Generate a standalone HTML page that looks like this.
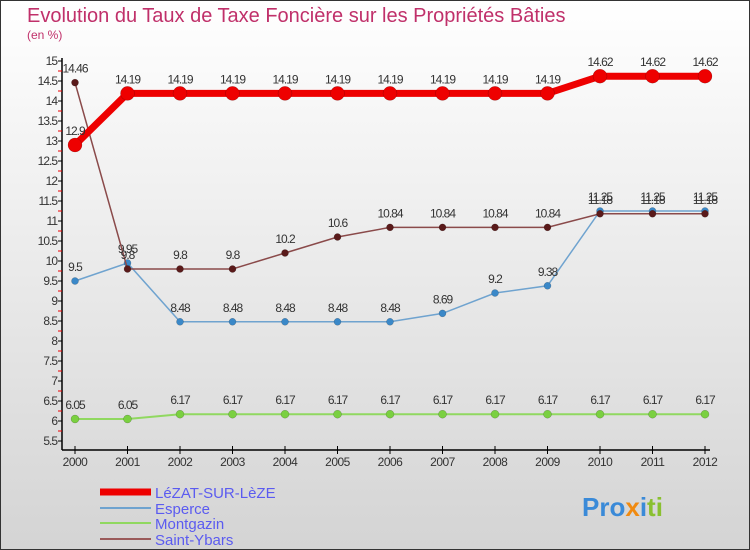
<!DOCTYPE html>
<html><head><meta charset="utf-8"><style>
body{margin:0;width:750px;height:550px;overflow:hidden;font-family:"Liberation Sans",sans-serif}
svg{display:block}
</style></head><body>
<svg width="750" height="550" xmlns="http://www.w3.org/2000/svg">
<defs><linearGradient id="bg" x1="0" y1="0" x2="0" y2="1"><stop offset="0" stop-color="#ffffff"/><stop offset="1" stop-color="#d4d4d4"/></linearGradient></defs>
<rect x="0.5" y="0.5" width="749" height="549" fill="url(#bg)" stroke="#333"/>
<text x="27" y="22" font-size="20" fill="#c0306a">Evolution du Taux de Taxe Foncière sur les Propriétés Bâties</text>
<text x="27" y="39" font-size="12" fill="#c0306a">(en %)</text>
<g id="axes"></g><g id="series"></g>
<g>
<line x1="100" y1="492" x2="151" y2="492" stroke="#e00" stroke-width="7"/>
<text x="155" y="498" font-size="15" fill="#5b5bf0">LéZAT-SUR-LèZE</text>
<line x1="100" y1="508" x2="151" y2="508" stroke="#6fa3cf" stroke-width="2"/>
<text x="155" y="514" font-size="15" fill="#5b5bf0">Esperce</text>
<line x1="100" y1="523" x2="151" y2="523" stroke="#90d860" stroke-width="2"/>
<text x="155" y="529" font-size="15" fill="#5b5bf0">Montgazin</text>
<line x1="100" y1="539" x2="151" y2="539" stroke="#9a5a5a" stroke-width="2"/>
<text x="155" y="545" font-size="15" fill="#5b5bf0">Saint-Ybars</text>
</g>
<text x="582" y="516" font-size="26" font-weight="bold"><tspan fill="#3a8ad8">Pro</tspan><tspan fill="#f08a10">x</tspan><tspan fill="#3a8ad8">i</tspan><tspan fill="#8ac030">ti</tspan></text>
</svg>
<script>
const years=[2000,2001,2002,2003,2004,2005,2006,2007,2008,2009,2010,2011,2012];
const lezat=[12.9,14.19,14.19,14.19,14.19,14.19,14.19,14.19,14.19,14.19,14.62,14.62,14.62];
const esperce=[9.5,9.95,8.48,8.48,8.48,8.48,8.48,8.69,9.2,9.38,11.25,11.25,11.25];
const montgazin=[6.05,6.05,6.17,6.17,6.17,6.17,6.17,6.17,6.17,6.17,6.17,6.17,6.17];
const saintYbars=[14.46,9.8,9.8,9.8,10.2,10.6,10.84,10.84,10.84,10.84,11.18,11.18,11.18];
const yTicks=[5.5,6,6.5,7,7.5,8,8.5,9,9.5,10,10.5,11,11.5,12,12.5,13,13.5,14,14.5,15];
const NS="http://www.w3.org/2000/svg";
const xs=i=>75+i*52.5, ys=v=>61+(15-v)*40;
function mk(t,a,p){const e=document.createElementNS(NS,t);for(const k in a)e.setAttribute(k,a[k]);p.appendChild(e);return e;}
const ax=document.getElementById('axes'), sg=document.getElementById('series');
let l=mk('line',{x1:62,y1:58,x2:62,y2:450,stroke:'#000','stroke-width':1.5},ax);


l=mk('line',{x1:62,y1:450,x2:710,y2:450,stroke:'#000','stroke-width':1.5},ax);


yTicks.forEach(v=>{const y=ys(v);
 mk('line',{x1:58,y1:y,x2:62,y2:y,stroke:'#000'},ax);
 if(v>5.5) mk('line',{x1:58,y1:y+10,x2:62,y2:y+10,stroke:'#e00'},ax);
 const t=mk('text',{x:57,y:y+4,'text-anchor':'end','font-size':12,fill:'#333','letter-spacing':'-1'},ax);t.textContent=v;
 
 
});
years.forEach((yr,i)=>{const x=xs(i);
 mk('line',{x1:x,y1:446,x2:x,y2:454,stroke:'#000'},ax);
 const t=mk('text',{x:x,y:466,'text-anchor':'middle','font-size':12,fill:'#333','letter-spacing':'-0.5'},ax);t.textContent=yr;
 
 
});
function series(data,color,w,r,name,dot){
 const g=mk('g',{},sg);
 
 
 const p=mk('polyline',{points:data.map((v,i)=>xs(i)+','+ys(v)).join(' '),fill:'none',stroke:color,'stroke-width':w},g);
 
 
 data.forEach((v,i)=>{
  const c=mk('circle',{cx:xs(i),cy:ys(v),r:r,fill:dot,stroke:'rgba(0,0,0,0.3)','stroke-width':0.5},g);
  
  
  const t=mk('text',{x:xs(i),y:ys(v)-10,'text-anchor':'middle','font-size':12,fill:'#333','letter-spacing':'-1'},g);t.textContent=v;
  
  
 });
}
series(montgazin,'#90d860',2,4,'montgazin','#7ad040');
series(esperce,'#6fa3cf',1.5,3.5,'esperce','#3a88c8');
series(saintYbars,'#8a4a4a',1.5,3.5,'saint-ybars','#5a1a1a');
series(lezat,'#ee0000',7,7,'lezat','#ee0000');
</script>
</body></html>
